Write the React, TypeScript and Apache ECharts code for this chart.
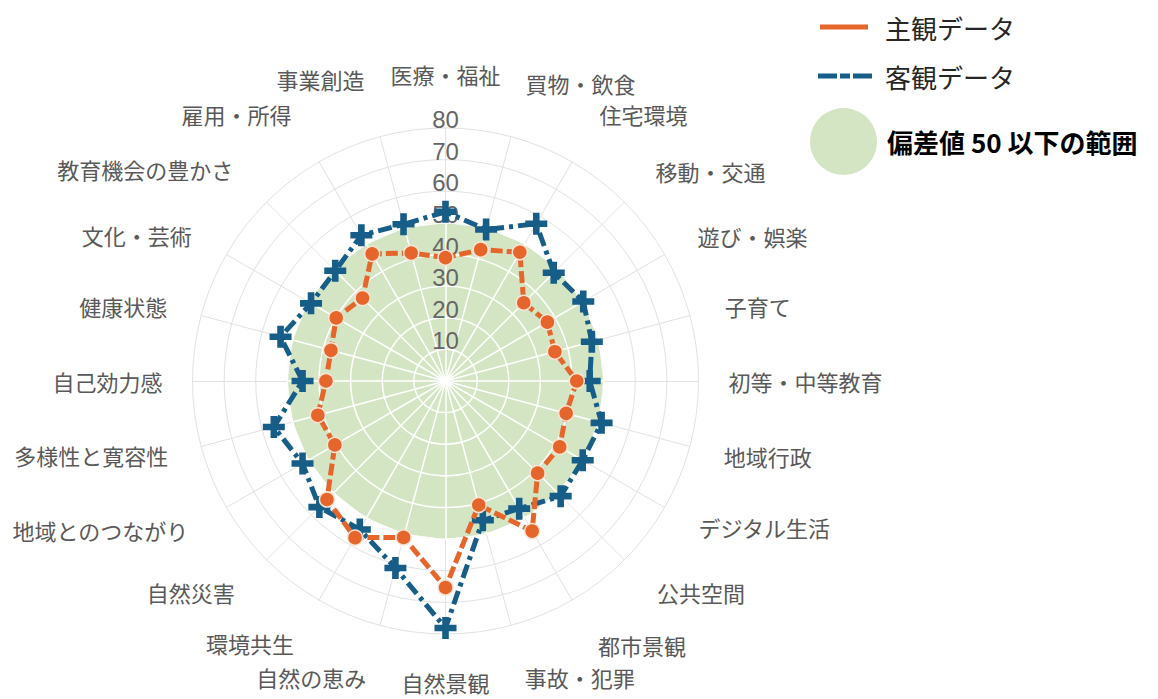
import React, { useEffect, useRef } from "react";
import * as echarts from "echarts";

// ---- data (listed clockwise from the top) ----
const INDICATORS = [
  "医療・福祉", "買物・飲食", "住宅環境", "移動・交通", "遊び・娯楽", "子育て",
  "初等・中等教育", "地域行政", "デジタル生活", "公共空間", "都市景観", "事故・犯罪",
  "自然景観", "自然の恵み", "環境共生", "自然災害", "地域とのつながり", "多様性と寛容性",
  "自己効力感", "健康状態", "文化・芸術", "教育機会の豊かさ", "雇用・所得", "事業創造",
];
const SUBJECTIVE = [
  39, 43, 47, 35, 37.2, 35.8, 41.5, 39.5, 41.7, 41.2, 54.8, 40.6,
  65.3, 51.2, 57.2, 53, 40.4, 41.8, 37.8, 37.5, 39.9, 37.1, 46.4, 41.9,
];
const OBJECTIVE = [
  53.5, 49.6, 57.4, 48.4, 50.3, 47.9, 45.6, 51.1, 50.1, 51.5, 46.6, 45.6,
  78.1, 61.2, 54.2, 56.4, 52.2, 56.2, 45.2, 54, 49.1, 49.3, 53.2, 51.3,
];
const BASELINE = [
  50, 50, 50, 50, 50, 50, 50, 50, 50, 50, 50, 50,
  50, 50, 50, 50, 50, 50, 50, 50, 50, 50, 50, 50,
];
const TICK_LABELS = [10, 20, 30, 40, 50, 60, 70, 80];
const AXIS_MAX = 80;
const BASE_MAX = 50;
const SERIES_NAMES = ["主観データ", "客観データ", "偏差値 50 以下の範囲"];

// ---- layout / style ----
const CENTER = [445.5, 381];
const RADIUS = 253;
const NAME_GAPS = [43, 56, 55, 44, 38, 36, 30, 35, 39, 46, 52, 53, 37, 53, 50, 45, 44, 34, 30, 35, 40, 47, 55, 60];
const ORANGE = "#e5652b";
const BLUE = "#165e88";
const GREEN = "#d4e5c4";
const GRID = "#e2e2e2";
const JP = "'Noto Sans CJK JP', 'Noto Sans', sans-serif";
const PLUS = "path://M7,0H13V7H20V13H13V20H7V13H0V7H7Z";

// ECharts lays radar indicators out counter-clockwise; walk the lists in reverse
// (keeping the first one on top) so the chart reads clockwise like the original.
const ORDER = INDICATORS.map((_, k) => (INDICATORS.length - k) % INDICATORS.length);
const pick = (arr: any[]) => ORDER.map((i) => arr[i]);

export default function App() {
  const ref = useRef<HTMLDivElement>(null);
  useEffect(() => {
    const chart = echarts.init(ref.current!, null, { renderer: "svg" });
    const names = pick(INDICATORS);
    const gaps = pick(NAME_GAPS);
    const option: any = {
      animation: false,
      backgroundColor: "#ffffff",
      legend: [
        {
          data: [SERIES_NAMES[0]], left: 820, top: 14, padding: 0, selectedMode: false,
          icon: "rect", itemWidth: 48, itemHeight: 5, itemStyle: { borderWidth: 0 },
          textStyle: { fontSize: 26, color: "#262626", fontFamily: JP, padding: [0, 0, 0, 12] },
        },
        {
          data: [SERIES_NAMES[1]], left: 818, top: 63, padding: 0, selectedMode: false,
          icon: "path://M0,0H19V5H0Z M22,0H32V5H22Z M35,0H54V5H35Z", itemWidth: 54, itemHeight: 5,
          itemStyle: { borderWidth: 0 },
          textStyle: { fontSize: 26, color: "#262626", fontFamily: JP, padding: [0, 0, 0, 8] },
        },
        {
          data: [SERIES_NAMES[2]], left: 810, top: 108, padding: 0, selectedMode: false,
          icon: "circle", itemWidth: 67, itemHeight: 67, itemStyle: { borderWidth: 0 },
          textStyle: { fontSize: 26, fontWeight: "bold", color: "#000", fontFamily: JP, padding: [0, 0, 0, 5] },
        },
      ],
      radar: [
        {
          center: CENTER, radius: RADIUS, startAngle: 90, shape: "circle", splitNumber: 8, z: 0,
          indicator: names.map((n, i) => ({ name: n, min: 0, max: AXIS_MAX, nameGap: gaps[i] })),
          nameGap: 40,
          axisName: { color: "#595959", fontSize: 22, fontFamily: JP },
          splitArea: { show: false },
          splitLine: { lineStyle: { color: GRID, width: 1 } },
          axisLine: { lineStyle: { color: GRID, width: 1 } },
          axisTick: { show: false },
          axisLabel: { show: false },
        },
        {
          center: CENTER, radius: (RADIUS * BASE_MAX) / AXIS_MAX, startAngle: 90, shape: "circle",
          splitNumber: 5, z: 2, silent: true,
          indicator: names.map((n) => ({ name: n, min: 0, max: BASE_MAX })),
          axisName: { show: false },
          splitArea: { show: false },
          splitLine: { lineStyle: { color: "#ffffff", width: 1.5 } },
          axisLine: { lineStyle: { color: "#ffffff", width: 1.5 } },
          axisTick: { show: false },
          axisLabel: { show: false },
        },
        {
          center: CENTER, radius: RADIUS, startAngle: 90, shape: "circle", splitNumber: 8, z: 3, silent: true,
          indicator: names.map((n, i) =>
            i === 0
              ? {
                  name: n, min: 0, max: AXIS_MAX,
                  axisLabel: {
                    show: true, margin: 0, align: "center", verticalAlign: "bottom", lineHeight: 17,
                    fontSize: 24, color: "#666666", fontFamily: "'Liberation Sans', Arial, sans-serif",
                    showMinLabel: false,
                    formatter: (v: number) => (TICK_LABELS.indexOf(v) >= 0 ? String(v) : ""),
                  },
                }
              : { name: n, min: 0, max: AXIS_MAX }
          ),
          axisName: { show: false },
          splitArea: { show: false },
          splitLine: { show: false },
          axisLine: { show: false },
          axisTick: { show: false },
          axisLabel: { show: false },
        },
      ],
      series: [
        {
          name: SERIES_NAMES[2], type: "radar", radarIndex: 0, z: 1, silent: true,
          symbol: "none",
          itemStyle: { color: GREEN },
          lineStyle: { width: 0, color: GREEN },
          areaStyle: { color: GREEN, opacity: 1 },
          data: [{ value: pick(BASELINE), name: SERIES_NAMES[2] }],
        },
        {
          name: SERIES_NAMES[1], type: "radar", radarIndex: 0, z: 4,
          symbol: PLUS, symbolSize: 22,
          itemStyle: { color: BLUE },
          lineStyle: { color: BLUE, width: 5, type: [14, 5, 4, 5] },
          data: [{ value: pick(OBJECTIVE), name: SERIES_NAMES[1] }],
        },
        {
          name: SERIES_NAMES[0], type: "radar", radarIndex: 0, z: 5,
          symbol: "circle", symbolSize: 15,
          itemStyle: { color: ORANGE, borderColor: "#fbe3d4", borderWidth: 1.5 },
          lineStyle: { color: ORANGE, width: 5, type: [12, 4] },
          data: [{ value: pick(SUBJECTIVE), name: SERIES_NAMES[0] }],
        },
      ],
    };
    chart.setOption(option);
    return () => chart.dispose();
  }, []);
  return (
    <div
      ref={ref}
      style={{ position: "absolute", left: 0, top: 0, width: 1158, height: 699, background: "#fff" }}
    />
  );
}
